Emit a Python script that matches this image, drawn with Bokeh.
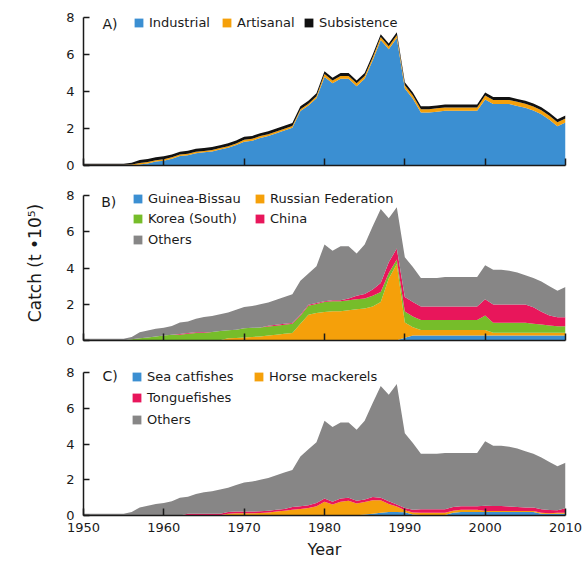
from bokeh.plotting import figure
from bokeh.models import ColumnDataSource, Range1d, FixedTicker, Legend, LegendItem, Label
from bokeh.layouts import column
from bokeh.embed import file_html
from bokeh.resources import INLINE

# ---------------- data (catch, t x 10^5) ----------------
years = list(range(1950, 2011))

# Panel A: catch by sector
industrial = [0, 0, 0, 0, 0, 0,
              0, 0.06, 0.11, 0.21,
              0.26, 0.36, 0.51, 0.56, 0.66, 0.71, 0.76, 0.86, 0.96, 1.11,
              1.29, 1.34, 1.49, 1.59, 1.74, 1.89, 2.04, 2.94, 3.24, 3.64,
              4.79, 4.44, 4.69, 4.69, 4.29, 4.69, 5.69, 6.79, 6.29, 6.89,
              4.16, 3.61, 2.86, 2.86, 2.91, 2.96, 2.96, 2.96, 2.96, 2.96,
              3.57, 3.32, 3.32, 3.32, 3.22, 3.12, 2.97, 2.77, 2.47, 2.12, 2.32]
artisanal = [0.04, 0.04, 0.04, 0.04, 0.04, 0.04,
             0.05, 0.08, 0.08, 0.08,
             0.08, 0.08, 0.08, 0.08, 0.08, 0.08, 0.08, 0.08, 0.08, 0.08,
             0.10, 0.10, 0.10, 0.10, 0.10, 0.10, 0.10, 0.10, 0.10, 0.10,
             0.15, 0.15, 0.15, 0.15, 0.15, 0.15, 0.15, 0.15, 0.15, 0.15,
             0.18, 0.18, 0.18, 0.18, 0.18, 0.18, 0.18, 0.18, 0.18, 0.18,
             0.22, 0.22, 0.22, 0.22, 0.22, 0.22, 0.22, 0.22, 0.22, 0.22, 0.22]
subsistence = [0.06, 0.06, 0.06, 0.06, 0.06, 0.06,
               0.10, 0.16, 0.16, 0.16,
               0.16, 0.16, 0.16, 0.16, 0.16, 0.16, 0.16, 0.16, 0.16, 0.16,
               0.16, 0.16, 0.16, 0.16, 0.16, 0.16, 0.16, 0.16, 0.16, 0.16,
               0.16, 0.16, 0.16, 0.16, 0.16, 0.16, 0.16, 0.16, 0.16, 0.16,
               0.16, 0.16, 0.16, 0.16, 0.16, 0.16, 0.16, 0.16, 0.16, 0.16,
               0.16, 0.16, 0.16, 0.16, 0.16, 0.16, 0.16, 0.16, 0.16, 0.16, 0.16]

# Panel B: catch by fishing country
guinea_bissau = [0.02] * 40 + \
    [0.15, 0.28, 0.28, 0.28, 0.28, 0.28, 0.28, 0.28, 0.28, 0.28,
     0.28, 0.28, 0.28, 0.28, 0.28, 0.28, 0.28, 0.28, 0.28, 0.28, 0.28]
russia = [0, 0, 0, 0, 0, 0,
          0, 0, 0, 0,
          0, 0, 0, 0, 0, 0, 0, 0, 0.10, 0.12,
          0.15, 0.18, 0.20, 0.25, 0.30, 0.35, 0.40, 0.90, 1.40, 1.50,
          1.55, 1.60, 1.60, 1.65, 1.70, 1.75, 1.85, 2.10, 3.40, 4.20,
          0.85, 0.45, 0.30, 0.30, 0.30, 0.30, 0.30, 0.30, 0.30, 0.30,
          0.30, 0.15, 0.15, 0.15, 0.15, 0.15, 0.15, 0.15, 0.15, 0.15, 0.15]
korea = [0, 0, 0, 0, 0, 0,
         0.05, 0.10, 0.15, 0.20,
         0.25, 0.30, 0.30, 0.35, 0.40, 0.40, 0.45, 0.50, 0.45, 0.45,
         0.50, 0.50, 0.50, 0.50, 0.50, 0.50, 0.50, 0.45, 0.50, 0.50,
         0.55, 0.55, 0.55, 0.55, 0.55, 0.55, 0.60, 0.55, 0.30, 0.25,
         0.60, 0.60, 0.55, 0.55, 0.55, 0.55, 0.55, 0.55, 0.55, 0.55,
         0.80, 0.55, 0.55, 0.55, 0.55, 0.55, 0.50, 0.45, 0.40, 0.35, 0.35]
china = [0, 0, 0, 0, 0, 0,
         0, 0, 0, 0,
         0, 0, 0.04, 0.04, 0.04, 0.04, 0, 0, 0, 0,
         0, 0, 0, 0.05, 0.05, 0.05, 0.05, 0.05, 0.05, 0.05,
         0.05, 0.05, 0.05, 0.10, 0.20, 0.25, 0.35, 0.50, 0.60, 0.60,
         0.80, 0.80, 0.75, 0.75, 0.75, 0.75, 0.75, 0.75, 0.75, 0.75,
         0.90, 1.00, 1.00, 1.00, 1.00, 1.00, 0.90, 0.70, 0.55, 0.50, 0.50]
others_b = [0.08, 0.08, 0.08, 0.08, 0.08, 0.08,
            0.13, 0.33, 0.38, 0.43,
            0.43, 0.48, 0.64, 0.64, 0.74, 0.84, 0.88, 0.93, 0.98, 1.11,
            1.18, 1.20, 1.28, 1.28, 1.38, 1.48, 1.58, 1.88, 1.73, 2.03,
            3.13, 2.73, 2.98, 2.88, 2.33, 2.73, 3.48, 4.08, 2.43, 2.28,
            2.20, 1.92, 1.57, 1.57, 1.57, 1.62, 1.62, 1.62, 1.62, 1.62,
            1.87, 1.92, 1.92, 1.87, 1.77, 1.62, 1.62, 1.67, 1.62, 1.47, 1.67]

# Panel C: catch by taxon
sea_catfishes = [0] * 13 + [0.02] * 22 + \
    [0.05, 0.10, 0.15, 0.20, 0.20,
     0.18, 0.05, 0.03, 0.03, 0.03, 0.03, 0.15, 0.20, 0.20, 0.20,
     0.20, 0.20, 0.20, 0.20, 0.20, 0.20, 0.20, 0.10, 0.08, 0.10, 0.10]
horse_mackerels = [0, 0, 0, 0, 0, 0,
                   0, 0, 0, 0,
                   0, 0, 0, 0, 0, 0, 0, 0, 0.08, 0.10,
                   0.10, 0.10, 0.12, 0.15, 0.20, 0.25, 0.30, 0.35, 0.40, 0.50,
                   0.75, 0.60, 0.75, 0.80, 0.65, 0.70, 0.75, 0.70, 0.45, 0.30,
                   0.12, 0.12, 0.12, 0.12, 0.12, 0.12, 0.12, 0.12, 0.12, 0.12,
                   0.05, 0.05, 0.05, 0.05, 0.05, 0.05, 0.05, 0.05, 0.05, 0.05, 0.05]
tonguefishes = [0, 0, 0, 0, 0, 0,
                0, 0, 0, 0,
                0, 0, 0, 0.08, 0.08, 0.08, 0.08, 0.08, 0.10, 0.10,
                0.10, 0.10, 0.10, 0.10, 0.10, 0.10, 0.15, 0.15, 0.15, 0.18,
                0.18, 0.15, 0.18, 0.18, 0.15, 0.15, 0.18, 0.15, 0.15, 0.12,
                0.12, 0.15, 0.20, 0.20, 0.20, 0.20, 0.20, 0.20, 0.20, 0.20,
                0.30, 0.28, 0.28, 0.25, 0.22, 0.20, 0.20, 0.20, 0.18, 0.15, 0.25]
others_c = [0.10, 0.10, 0.10, 0.10, 0.10, 0.10,
            0.20, 0.45, 0.55, 0.65,
            0.70, 0.80, 1.00, 0.95, 1.10, 1.20, 1.25, 1.35, 1.35, 1.48,
            1.63, 1.68, 1.76, 1.83, 1.93, 2.03, 2.08, 2.78, 3.13, 3.40,
            4.35, 4.18, 4.25, 4.20, 3.98, 4.40, 5.27, 6.25, 5.95, 6.73,
            4.18, 3.73, 3.10, 3.10, 3.10, 3.15, 3.03, 2.98, 2.98, 2.98,
            3.60, 3.37, 3.37, 3.35, 3.28, 3.15, 3.00, 2.90, 2.69, 2.45, 2.55]

for arr in (industrial, artisanal, subsistence, guinea_bissau, russia, korea, china,
            others_b, sea_catfishes, horse_mackerels, tonguefishes, others_c):
    assert len(arr) == len(years), len(arr)

x_ticks = [1950, 1960, 1970, 1980, 1990, 2000, 2010]
y_ticks = [0, 2, 4, 6, 8]

# ---------------- styling ----------------
FONT = "DejaVu Sans"
BLUE = "#3b8fd2"
ORANGE = "#f5a00a"
BLACK = "#111111"
GREEN = "#76bd2a"
RED = "#e8165b"
GREY = "#878686"
TXT = "#1a1a1a"

FRAME_LEFT = 83  # page px of the frame's left edge


def make_fig(frame_h, y_top, top, bottom, show_x_labels):
    p = figure(frame_width=482, frame_height=frame_h,
               min_border_left=FRAME_LEFT, min_border_right=20,
               min_border_top=top, min_border_bottom=bottom,
               x_range=Range1d(1950, 2010), y_range=Range1d(0, y_top),
               output_backend="svg", toolbar_location=None)
    p.outline_line_color = None
    p.grid.visible = False
    p.background_fill_color = "white"
    p.border_fill_color = "white"
    for ax in (p.xaxis[0], p.yaxis[0]):
        ax.axis_line_color = TXT
        ax.axis_line_width = 1.5
        ax.major_tick_line_color = TXT
        ax.major_tick_line_width = 1.5
        ax.major_tick_out = 0
        ax.minor_tick_line_color = None
        ax.major_label_text_font = FONT
        ax.major_label_text_font_size = "13px"
        ax.major_label_text_color = TXT
        ax.axis_label_text_font = FONT
        ax.axis_label_text_font_style = "normal"
        ax.axis_label_text_color = TXT
    p.xaxis.ticker = FixedTicker(ticks=x_ticks)
    p.yaxis.ticker = FixedTicker(ticks=y_ticks)
    p.yaxis.bounds = (0, 8)
    p.xaxis.major_tick_in = 7
    p.yaxis.major_tick_in = 6
    p.yaxis.major_label_standoff = 9
    if show_x_labels:
        p.xaxis.major_label_standoff = 7
    else:
        p.xaxis.major_label_text_color = None
        p.xaxis.major_label_text_font_size = "6px"
        p.xaxis.major_label_standoff = 0
    return p


def add_key(p, renderer, text, sq_left, cy, frame_bottom):
    lg = Legend(items=[LegendItem(label=text, renderers=[renderer])],
                location=(sq_left - FRAME_LEFT, frame_bottom - cy - 8),
                glyph_width=11, glyph_height=11, label_height=16,
                label_standoff=5, padding=0, margin=0, spacing=0,
                border_line_color=None, background_fill_alpha=0,
                label_text_font=FONT, label_text_font_size="13px",
                label_text_color=TXT)
    p.add_layout(lg)


def add_tag(p, text, x, y):
    p.add_layout(Label(x=x, y=y, text=text, text_font=FONT, text_font_size="14px",
                       text_color=TXT, text_baseline="middle", text_align="left"))


# ---------------- Panel A ----------------
src_a = ColumnDataSource(dict(year=years, industrial=industrial,
                              artisanal=artisanal, subsistence=subsistence))
pa = make_fig(156, 8 * 156 / 148, 9, 15, False)
ra = pa.varea_stack(stackers=["industrial", "artisanal", "subsistence"], x="year",
                    color=[BLUE, ORANGE, BLACK], source=src_a)
add_tag(pa, "A)", 1952.35, 7.65)
add_key(pa, ra[0], "Industrial", 133, 22, 165)
add_key(pa, ra[1], "Artisanal", 221, 22, 165)
add_key(pa, ra[2], "Subsistence", 303, 22, 165)

# ---------------- Panel B ----------------
src_b = ColumnDataSource(dict(year=years, gb=guinea_bissau, ru=russia, kr=korea,
                              cn=china, ot=others_b))
pb = make_fig(155, 8 * 155 / 145, 5, 16, False)
rb = pb.varea_stack(stackers=["gb", "ru", "kr", "cn", "ot"], x="year",
                    color=[BLUE, ORANGE, GREEN, RED, GREY], source=src_b)
pb.yaxis.axis_label = "Catch (t \u202210\u2075)"
pb.yaxis.axis_label_text_font_size = "17px"
pb.yaxis.axis_label_standoff = 18
add_tag(pb, "B)", 1952.2, 7.65)
add_key(pb, rb[0], "Guinea-Bissau", 132, 198, 340)
add_key(pb, rb[1], "Russian Federation", 254, 198, 340)
add_key(pb, rb[2], "Korea (South)", 132, 218, 340)
add_key(pb, rb[3], "China", 254, 218, 340)
add_key(pb, rb[4], "Others", 132, 239, 340)

# ---------------- Panel C ----------------
src_c = ColumnDataSource(dict(year=years, sc=sea_catfishes, hm=horse_mackerels,
                              tf=tonguefishes, ot=others_c))
pc = make_fig(153, 8 * 153 / 143, 6, 45, True)
rc = pc.varea_stack(stackers=["sc", "hm", "tf", "ot"], x="year",
                    color=[BLUE, ORANGE, RED, GREY], source=src_c)
pc.xaxis.axis_label = "Year"
pc.xaxis.axis_label_text_font_size = "16px"
pc.xaxis.axis_label_standoff = 5
add_tag(pc, "C)", 1952.35, 7.83)
add_key(pc, rc[0], "Sea catfishes", 131, 376, 515)
add_key(pc, rc[1], "Horse mackerels", 253, 376, 515)
add_key(pc, rc[2], "Tonguefishes", 131, 397, 515)
add_key(pc, rc[3], "Others", 131, 419, 515)

# draw axes above the areas
for p in (pa, pb, pc):
    p.xaxis.level = "overlay"
    p.yaxis.level = "overlay"

layout = column(pa, pb, pc, spacing=0)
open("out.html", "w").write(file_html(layout, INLINE))
